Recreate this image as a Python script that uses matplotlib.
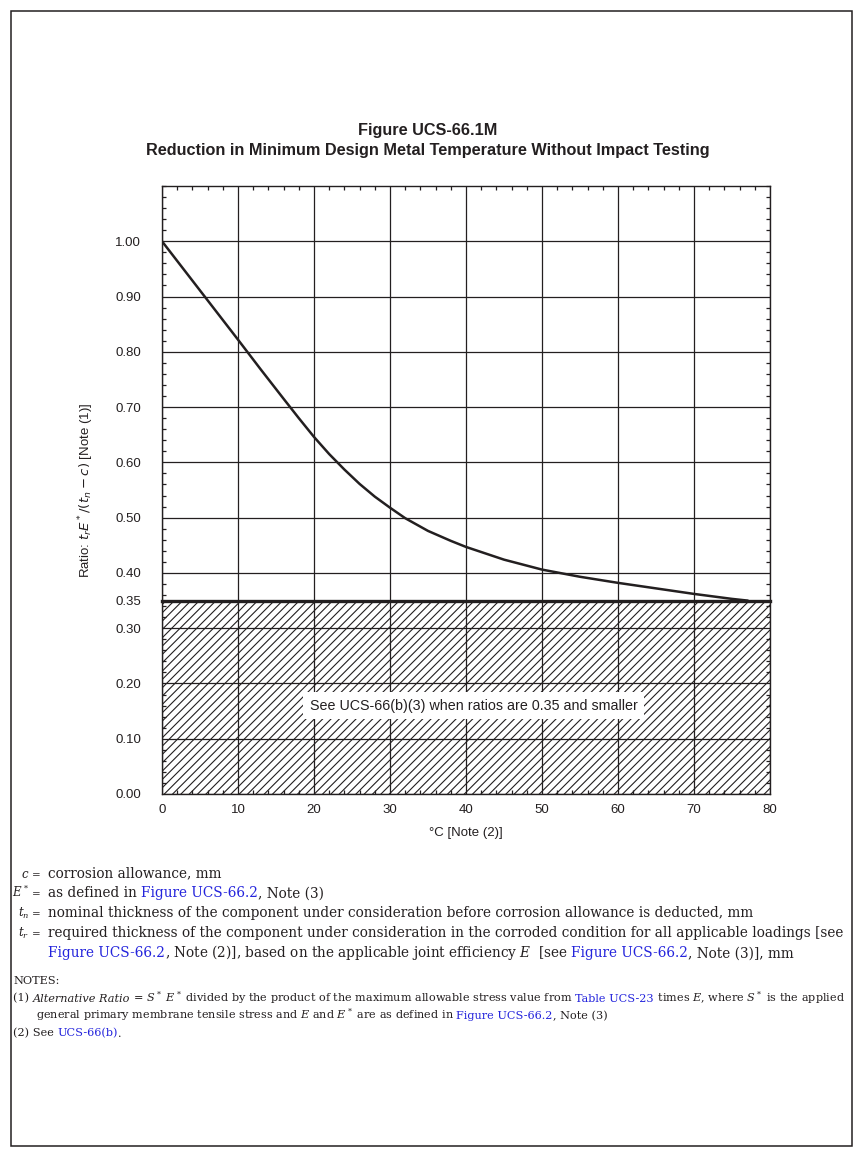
import matplotlib
matplotlib.use('Agg')
import matplotlib.pyplot as plt
from matplotlib.patches import Rectangle
from matplotlib.ticker import MultipleLocator, FixedLocator

# curve values
temp_c = [0, 5, 10, 13, 16, 18, 20, 22, 24, 26, 28, 30, 32, 35, 38, 40,
          45, 50, 55, 60, 65, 70, 75, 77]
ratio = [1.00, 0.911, 0.822, 0.768, 0.715, 0.680, 0.646, 0.615, 0.587, 0.561, 0.538, 0.518,
         0.499, 0.476, 0.458, 0.447, 0.424, 0.406, 0.393, 0.382, 0.372, 0.362, 0.353, 0.35]
ratio_limit = 0.35

x_ticks = [0, 10, 20, 30, 40, 50, 60, 70, 80]
y_ticks = [0.0, 0.1, 0.2, 0.3, 0.35, 0.4, 0.5, 0.6, 0.7, 0.8, 0.9, 1.0]
y_labels = ['0.00', '0.10', '0.20', '0.30', '0.35', '0.40', '0.50', '0.60', '0.70', '0.80', '0.90', '1.00']

ink = '#231f20'
blue = '#2424dc'
W, H = 861, 1157

plt.rcParams['font.family'] = ['Liberation Sans', 'DejaVu Sans']
plt.rcParams['hatch.linewidth'] = 0.8

fig = plt.figure(figsize=(W / 100, H / 100), dpi=100)
renderer = fig.canvas.get_renderer()

# page frame
fig.patches.append(Rectangle((10.5 / W, 1 - 1146 / H), 841.5 / W, 1135.5 / H,
                             transform=fig.transFigure, fill=False, lw=1.1, ec=ink))

fig.text(428 / W, 1 - 130 / H, 'Figure UCS-66.1M', ha='center', va='center',
         weight='bold', size=11.7, color=ink)
fig.text(428 / W, 1 - 150 / H, 'Reduction in Minimum Design Metal Temperature Without Impact Testing',
         ha='center', va='center', weight='bold', size=11.7, color=ink)

ax = fig.add_axes([162 / W, 1 - 794 / H, 608 / W, 608 / H])
ax.set_xlim(0, 80)
ax.set_ylim(0, 1.10)

ax.fill_between(ax.get_xlim(), 0, ratio_limit, facecolor='none', edgecolor=ink,
                hatch='////', linewidth=0, zorder=1)
ax.plot(ax.get_xlim(), [ratio_limit, ratio_limit], color=ink, lw=2.4,
        solid_capstyle='projecting', clip_on=False, zorder=2.5)
ax.plot(temp_c, ratio, color=ink, lw=1.8, zorder=2.4, solid_joinstyle='round')

ax.xaxis.set_major_locator(FixedLocator(x_ticks))
ax.xaxis.set_minor_locator(MultipleLocator(2))
ax.yaxis.set_major_locator(FixedLocator(y_ticks))
ax.yaxis.set_minor_locator(MultipleLocator(0.02))
ax.set_yticklabels(y_labels)
ax.grid(True, which='major', color=ink, lw=0.9)
ax.tick_params(which='both', direction='in', top=True, right=True, colors=ink,
               labelsize=9.5)
ax.tick_params(which='major', length=0, width=1)
ax.tick_params(which='minor', length=3, width=0.9)
ax.tick_params(axis='y', pad=15)
ax.tick_params(axis='x', pad=7)
for s in ax.spines.values():
    s.set_linewidth(1.0)
    s.set_color(ink)

ax.text(41, 0.16, 'See UCS-66(b)(3) when ratios are 0.35 and smaller', ha='center', va='center',
        size=10.3, color=ink, zorder=3,
        bbox=dict(boxstyle='square,pad=0.45', facecolor='white', edgecolor='none'))

ax.set_xlabel('°C [Note (2)]', size=9.5, color=ink, labelpad=8)
ax.set_ylabel('Ratio: $t_r E^*/(t_n - c)$ [Note (1)]', size=9.5, color=ink,
              math_fontfamily='dejavusans', labelpad=14)


def text_w(s, **kw):
    t = fig.text(0, 0, s + '|', **kw)
    w1 = t.get_window_extent(renderer).width
    t.remove()
    t = fig.text(0, 0, '|', **kw)
    w2 = t.get_window_extent(renderer).width
    t.remove()
    return w1 - w2


def put_line(x, y, parts, size):
    for s, color, style in parts:
        kw = dict(fontsize=size, color=color, style=style, family='DejaVu Serif',
                  math_fontfamily='dejavuserif')
        fig.text(x / W, 1 - y / H, s, va='baseline', ha='left', **kw)
        x += text_w(s, **kw)


body = 9.85
sym = [('$c$', 877.7), ('$E^*$', 897.3), ('$t_n$', 917.3), ('$t_r$', 937.3)]
for s, y in sym:
    fig.text(29 / W, 1 - y / H, s, ha='right', va='baseline', size=8.5, color=ink,
             math_fontfamily='dejavuserif')
    fig.text(36 / W, 1 - y / H, '=', ha='center', va='baseline', size=7.5, color=ink,
             family='DejaVu Serif')

put_line(48, 877.7, [('corrosion allowance, mm', ink, 'normal')], body)
put_line(48, 897.3, [('as defined in ', ink, 'normal'), ('Figure UCS-66.2', blue, 'normal'),
                     (', Note (3)', ink, 'normal')], body)
put_line(48, 917.3, [('nominal thickness of the component under consideration before corrosion '
                      'allowance is deducted, mm', ink, 'normal')], body)
put_line(48, 937.3, [('required thickness of the component under consideration in the corroded '
                      'condition for all applicable loadings [see', ink, 'normal')], body)
put_line(48, 957.3, [('Figure UCS-66.2', blue, 'normal'),
                     (', Note (2)], based on the applicable joint efficiency $E$  [see ', ink, 'normal'),
                     ('Figure UCS-66.2', blue, 'normal'), (', Note (3)], mm', ink, 'normal')], body)

note = 8.15
put_line(13, 984.3, [('NOTES:', ink, 'normal')], note)
put_line(13, 1001.7, [('(1) ', ink, 'normal'), ('Alternative Ratio', ink, 'italic'),
                      (' = $S^*$ $E^*$ divided by the product of the maximum allowable stress value from ',
                       ink, 'normal'),
                      ('Table UCS-23', blue, 'normal'),
                      (' times $E$, where $S^*$ is the applied', ink, 'normal')], note)
put_line(36, 1019, [('general primary membrane tensile stress and $E$ and $E^*$ are as defined in ',
                     ink, 'normal'),
                    ('Figure UCS-66.2', blue, 'normal'), (', Note (3)', ink, 'normal')], note)
put_line(13, 1036.7, [('(2) See ', ink, 'normal'), ('UCS-66(b)', blue, 'normal'),
                      ('.', ink, 'normal')], note)

fig.savefig('out.png', dpi=100)
